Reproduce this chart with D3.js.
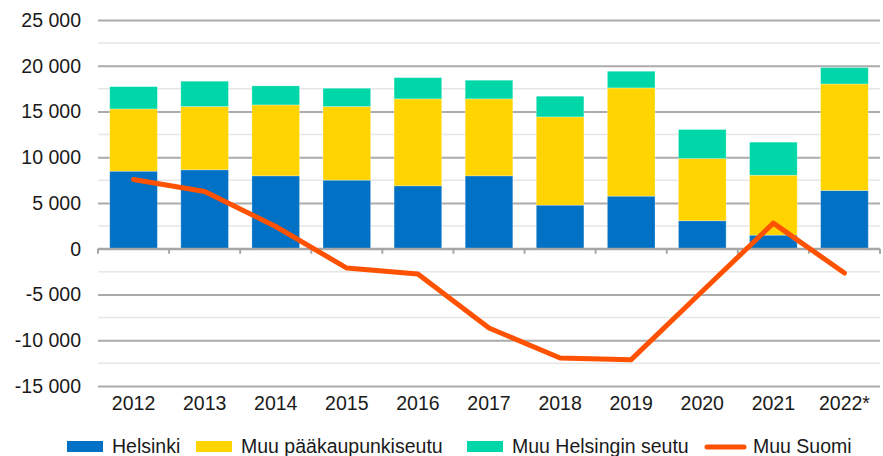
<!DOCTYPE html>
<meta charset="utf-8">
<script src="https://d3js.org/d3.v7.min.js"></script>
<style>
  body { margin: 0; background: #fff; }
  text { font-family: "Liberation Sans", Arial, sans-serif; fill: #1a1a1a; }
</style>
<div id="my_dataviz"></div>
<script>
  // data
  var years = ["2012", "2013", "2014", "2015", "2016", "2017", "2018", "2019", "2020", "2021", "2022*"];
  var helsinki = [8480, 8630, 7970, 7500, 6880, 7970, 4770, 5750, 3060, 1490, 6370];
  var muuPk = [6800, 6910, 7750, 8040, 9500, 8410, 9640, 11830, 6800, 6550, 11640];
  var muuSeutu = [2440, 2770, 2080, 2000, 2320, 2040, 2260, 1820, 3170, 3610, 1790];
  var muuSuomi = [7570, 6260, 2430, -2110, -2750, -8660, -11940, -12120, -4650, 2800, -2650];
  var yTicks = [-15000, -10000, -5000, 0, 5000, 10000, 15000, 20000, 25000];
  var seriesNames = ["Helsinki", "Muu pääkaupunkiseutu", "Muu Helsingin seutu", "Muu Suomi"];
  var colors = ["#0071c5", "#ffd400", "#00d7a8", "#ff5200"];

  var W = 883, H = 456;
  var margin = { top: 20, right: 3, bottom: 70, left: 98 };
  var width = W - margin.left - margin.right,
    height = H - margin.top - margin.bottom;
  var fontSize = "19.5px";

  var svg = d3.select("#my_dataviz")
    .append("svg")
    .attr("width", W)
    .attr("height", H)
    .append("g")
    .attr("transform", "translate(" + margin.left + "," + margin.top + ")");

  var x = d3.scaleBand()
    .domain(years)
    .range([0, width])
    .paddingInner(0.33)
    .paddingOuter(0.165);

  var y = d3.scaleLinear()
    .domain([-15000, 25000])
    .range([height, 0]);

  // minor gridlines
  svg.append("g")
    .selectAll("line")
    .data(d3.range(-12500, 25000, 5000))
    .enter().append("line")
    .attr("x1", 0).attr("x2", width)
    .attr("y1", function(d) { return y(d); })
    .attr("y2", function(d) { return y(d); })
    .style("stroke", "#e6e6e6")
    .style("stroke-width", 1.5);

  // major gridlines + labels
  var yAxis = svg.append("g")
    .call(d3.axisLeft(y).tickValues(yTicks).tickSize(-width)
      .tickFormat(function(d) { return d3.format(",")(d).replace(/,/g, " ").replace("−", "-"); }));
  yAxis.select(".domain").remove();
  yAxis.selectAll(".tick line")
    .style("stroke", "#ababab")
    .style("stroke-width", 2);
  yAxis.selectAll(".tick text")
    .attr("x", -17)
    .style("font-size", fontSize)
    .style("font-family", "'Liberation Sans', Arial, sans-serif")
    .style("fill", "#1a1a1a");

  // stacked bars
  var rows = years.map(function(yr, i) {
    return { year: yr, a: helsinki[i], b: muuPk[i], c: muuSeutu[i] };
  });
  var stack = d3.stack().keys(["a", "b", "c"])(rows);

  svg.append("g")
    .selectAll("g")
    .data(stack)
    .enter().append("g")
    .style("fill", function(d, i) { return colors[i]; })
    .selectAll("rect")
    .data(function(d) { return d; })
    .enter().append("rect")
    .attr("x", function(d) { return x(d.data.year); })
    .attr("y", function(d) { return y(d[1]); })
    .attr("height", function(d) { return y(d[0]) - y(d[1]); })
    .attr("width", x.bandwidth())
    .style("stroke", "rgba(255,255,255,0.35)")
    .style("stroke-width", 0.8);

  // zero axis with category ticks
  var step = x.step();
  svg.append("line")
    .attr("x1", 0).attr("x2", width)
    .attr("y1", y(0)).attr("y2", y(0))
    .style("stroke", "#a6a6a6")
    .style("stroke-width", 2);
  svg.append("g")
    .selectAll("line")
    .data(d3.range(years.length + 1))
    .enter().append("line")
    .attr("x1", function(d) { return x(years[0]) - x.paddingOuter() * step + d * step; })
    .attr("x2", function(d) { return x(years[0]) - x.paddingOuter() * step + d * step; })
    .attr("y1", y(0)).attr("y2", y(0) + 5)
    .style("stroke", "#a6a6a6")
    .style("stroke-width", 2);

  // x labels below the plot
  svg.append("g")
    .selectAll("text")
    .data(years)
    .enter().append("text")
    .attr("x", function(d) { return x(d) + x.bandwidth() / 2; })
    .attr("y", height + 24)
    .attr("text-anchor", "middle")
    .style("font-size", fontSize)
    .text(function(d) { return d; });

  // Muu Suomi line
  var line = d3.line()
    .x(function(d, i) { return x(years[i]) + x.bandwidth() / 2; })
    .y(function(d) { return y(d); });
  svg.append("path")
    .datum(muuSuomi)
    .attr("d", line)
    .style("fill", "none")
    .style("stroke", colors[3])
    .style("stroke-width", 5)
    .style("stroke-linecap", "round")
    .style("stroke-linejoin", "round");

  // legend
  var legendX = [67, 196, 467, 707];
  var legend = d3.select("svg").append("g");
  seriesNames.forEach(function(name, i) {
    if (i < 3) {
      legend.append("rect")
        .attr("x", legendX[i]).attr("y", 441)
        .attr("width", 36).attr("height", 11)
        .style("fill", colors[i]);
    } else {
      legend.append("line")
        .attr("x1", legendX[i]).attr("x2", legendX[i] + 37)
        .attr("y1", 447).attr("y2", 447)
        .style("stroke", colors[i])
        .style("stroke-width", 5)
        .style("stroke-linecap", "round");
    }
    legend.append("text")
      .attr("x", legendX[i] + (i < 3 ? 45 : 46))
      .attr("y", 453)
      .style("font-size", fontSize)
      .text(name);
  });
</script>
